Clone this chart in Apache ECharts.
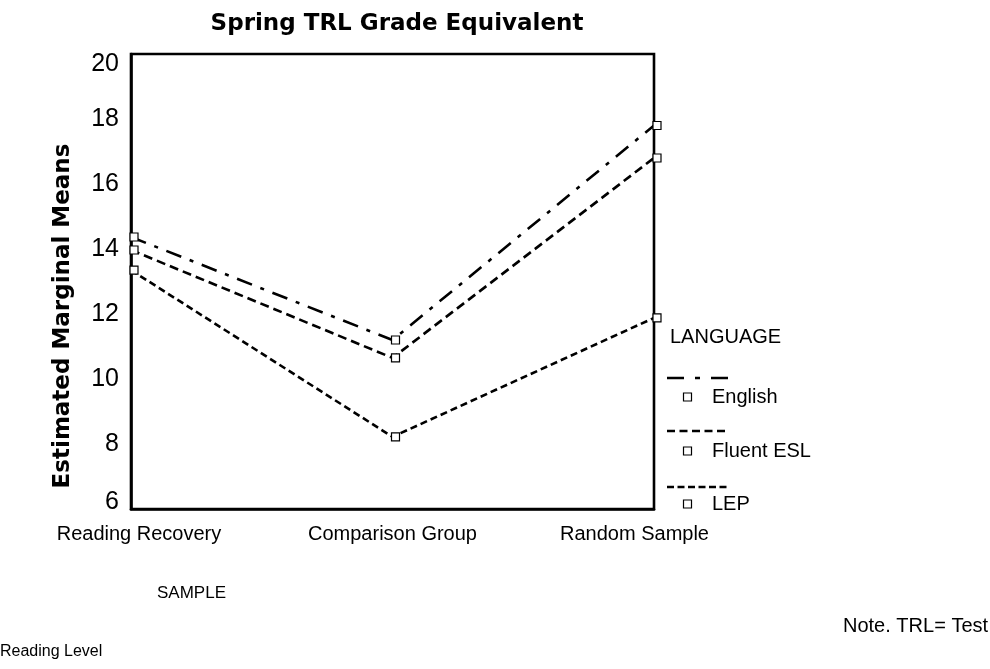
<!DOCTYPE html>
<html>
<head>
<meta charset="utf-8">
<script src="https://cdn.jsdelivr.net/npm/echarts@6/dist/echarts.min.js"></script>
<style>
  html, body { margin: 0; padding: 0; background: #fff; }
  #main { width: 990px; height: 669px; }
</style>
</head>
<body>
<div id="main"></div>
<script>
const categories = ['Reading Recovery', 'Comparison Group', 'Random Sample']
const english = [14.37, 11.2, 17.8]
const fluentEsl = [13.97, 10.65, 16.8]
const lep = [13.35, 8.22, 11.88]
const yTicks = [6, 8, 10, 12, 14, 16, 18, 20]

const chart = echarts.init(document.getElementById('main'))
const font = 'Liberation Sans, Arial, sans-serif'

const dashDot = [16, 9, 4, 9]
const dashFluent = [9, 5]
const dashLep = [7, 4]

function lineSeries(name, data, dash) {
  return {
    name: name,
    type: 'line',
    data: data,
    symbol: 'rect',
    symbolSize: 8,
    symbolOffset: [3, 0],
    itemStyle: { color: '#fff', borderColor: '#000', borderWidth: 1.2 },
    lineStyle: { color: '#000', width: 2.6, type: dash },
    emphasis: { disabled: true },
    z: 3
  }
}

// legend drawn by hand: line sample above, marker + label below
function legendEntry(lineY, markerY, dash, label) {
  return [
    {
      type: 'line',
      shape: { x1: 667, y1: lineY, x2: 729, y2: lineY },
      style: { stroke: '#000', lineWidth: 2.6, lineDash: dash }
    },
    {
      type: 'rect',
      shape: { x: 683.5, y: markerY - 4, width: 8, height: 8 },
      style: { fill: '#fff', stroke: '#000', lineWidth: 1.2 }
    },
    {
      type: 'text',
      x: 712, y: markerY,
      style: { text: label, fontSize: 20, fontFamily: font, fill: '#000', verticalAlign: 'middle' }
    }
  ]
}

const txt = { fontSize: 20, fontFamily: font, color: '#000' }
const yTxt = { fontSize: 25, fontFamily: font, color: '#000' }

const option = {
  backgroundColor: '#fff',
  animation: false,
  title: {
    text: 'Spring TRL Grade Equivalent',
    left: 392,
    top: 8,
    textAlign: 'center',
    textStyle: {
      fontFamily: 'DejaVu Sans',
      fontWeight: 'bold',
      fontSize: 23,
      color: '#000'
    }
  },
  grid: {
    left: 131, top: 54, right: 336, bottom: 160,
    show: true,
    borderColor: '#000',
    borderWidth: 2.6,
    backgroundColor: 'transparent'
  },
  xAxis: {
    type: 'category',
    data: categories,
    boundaryGap: false,
    axisLine: { show: true, lineStyle: { color: '#000', width: 2.6 } },
    axisTick: { show: false },
    axisLabel: {
      interval: 0,
      hideOverlap: false,
      margin: 15,
      fontSize: 20,
      fontFamily: font,
      color: '#000',
      formatter: function (v, i) {
        if (i === 0) return '{l|' + v + '}'
        if (i === 2) return '{r|' + v + '}'
        return '{m|' + v + '}'
      },
      rich: {
        l: Object.assign({ padding: [0, 0, 0, 16] }, txt),
        m: Object.assign({}, txt),
        r: Object.assign({ padding: [0, 39, 0, 0] }, txt)
      }
    },
    splitLine: { show: false }
  },
  yAxis: {
    type: 'value',
    min: yTicks[0],
    max: yTicks[yTicks.length - 1],
    interval: 2,
    axisLine: { show: true, lineStyle: { color: '#000', width: 2.6 } },
    axisTick: { show: false },
    splitLine: { show: false },
    axisLabel: {
      margin: 12,
      fontSize: 25,
      fontFamily: font,
      color: '#000',
      // end labels sit just inside the frame
      formatter: function (v) {
        if (v === yTicks[0]) return '{lo|' + v + '}'
        if (v === yTicks[yTicks.length - 1]) return '{hi|' + v + '}'
        return '{n|' + v + '}'
      },
      rich: {
        lo: Object.assign({ padding: [0, 0, 13, 0] }, yTxt),
        hi: Object.assign({ padding: [20, 0, 0, 0] }, yTxt),
        n: Object.assign({}, yTxt)
      }
    }
  },
  series: [
    lineSeries('English', english, dashDot),
    lineSeries('Fluent ESL', fluentEsl, dashFluent),
    lineSeries('LEP', lep, dashLep)
  ],
  graphic: [
    {
      type: 'text',
      x: 63, y: 316,
      rotation: Math.PI / 2,
      style: {
        text: 'Estimated Marginal Means',
        fontSize: 23,
        fontWeight: 'bold',
        fontFamily: 'DejaVu Sans',
        fill: '#000',
        align: 'center',
        verticalAlign: 'middle'
      }
    },
    {
      type: 'text', x: 670, y: 337,
      style: { text: 'LANGUAGE', fontSize: 20, fontFamily: font, fill: '#000', verticalAlign: 'middle' }
    },
    ...legendEntry(378, 397, [17, 11, 5, 11], 'English'),
    ...legendEntry(431, 451, [8, 4.5], 'Fluent ESL'),
    ...legendEntry(487, 504, [7, 3.5], 'LEP'),
    {
      type: 'text', x: 157, y: 593,
      style: { text: 'SAMPLE', fontSize: 17, fontFamily: font, fill: '#000', verticalAlign: 'middle' }
    },
    {
      type: 'text', x: 843, y: 626,
      style: { text: 'Note. TRL= Test', fontSize: 20, fontFamily: font, fill: '#000', verticalAlign: 'middle' }
    },
    {
      type: 'text', x: 0, y: 652,
      style: { text: 'Reading Level', fontSize: 16, fontFamily: font, fill: '#000', verticalAlign: 'middle' }
    }
  ]
}

chart.setOption(option)
</script>
</body>
</html>
